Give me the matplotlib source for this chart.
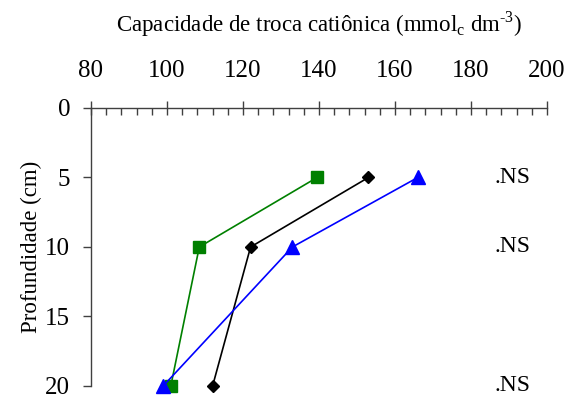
import numpy as np
import matplotlib.pyplot as plt
from matplotlib.ticker import MultipleLocator

plt.rcParams['font.family'] = ['Liberation Serif', 'DejaVu Serif']
plt.rcParams['mathtext.fontset'] = 'custom'
plt.rcParams['mathtext.rm'] = 'Liberation Serif'

depth = [5, 10, 20]
ctc_green = [139.5, 108.5, 101]
ctc_black = [153, 122, 112]
ctc_blue = [166, 133, 99]
sig_labels = ['.NS', '.NS', '.NS']

fig = plt.figure(figsize=(5.73, 3.96), dpi=100)
ax = fig.add_axes([0.1588, 0.0253, 0.7958, 0.702])

ax.plot(ctc_green, depth, color='#008000', lw=1.2, marker='s', ms=8, clip_on=False, zorder=3)
ax.plot(ctc_black, depth, color='black', lw=1.2, marker='D', ms=6.5, clip_on=False, zorder=3)
ax.plot(ctc_blue, depth, color='#0000ff', lw=1.2, marker='^', ms=10, clip_on=False, zorder=3)

for d, s in zip(depth, sig_labels):
    ax.text(191, d, s, ha='center', va='center', fontsize=17)

ax.set_xlim(80, 200)
ax.set_ylim(20, 0)

ax.xaxis.set_major_locator(MultipleLocator(20))
ax.xaxis.set_minor_locator(MultipleLocator(4))
ax.yaxis.set_major_locator(MultipleLocator(5))

ax.xaxis.tick_top()
ax.xaxis.set_label_position('top')
for s in ['right', 'bottom']:
    ax.spines[s].set_visible(False)
for s in ['top', 'left']:
    ax.spines[s].set_color('#404040')
    ax.spines[s].set_linewidth(1)

ax.tick_params(axis='x', which='major', direction='inout', length=10, width=1,
               color='#404040', labelsize=18, pad=14)
ax.tick_params(axis='x', which='minor', direction='in', length=5, width=1, color='#404040')
ax.tick_params(axis='y', which='major', direction='out', length=6, width=1,
               color='#404040', labelsize=18, pad=9)

ax.set_xlabel('Capacidade de troca catiônica (mmol$_\\mathregular{c}$ dm$^\\mathregular{\u20103}$)',
              fontsize=16.5, labelpad=20)
ax.set_ylabel('Profundidade (cm)', fontsize=16.5)
ax.yaxis.set_label_coords(-0.108, 0.5)

fig.savefig('out.png', dpi=100)
